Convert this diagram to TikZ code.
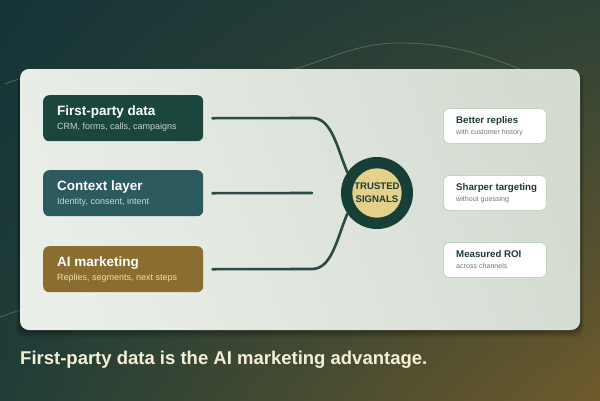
\documentclass[tikz,border=0pt]{standalone}
\usepackage{fontspec}
\setmainfont{Liberation Sans}
\usetikzlibrary{calc,shadings}
\definecolor{bgTL}{HTML}{163438}
\definecolor{bgTR}{HTML}{2D4236}
\definecolor{bgBL}{HTML}{1F3D37}
\definecolor{bgBR}{HTML}{6F5A2B}
\definecolor{panA}{HTML}{EAEEE8}
\definecolor{panB}{HTML}{D4DCD2}
\definecolor{boxA}{HTML}{1B463E}
\definecolor{boxB}{HTML}{2D5A5F}
\definecolor{boxC}{HTML}{8B6E2F}
\definecolor{subA}{HTML}{C3D5CE}
\definecolor{subB}{HTML}{C6DADB}
\definecolor{subC}{HTML}{EEDDAE}
\definecolor{ring}{HTML}{173E37}
\definecolor{gold}{HTML}{E4D089}
\definecolor{conn}{HTML}{2A4A45}
\definecolor{cardline}{HTML}{C3D4C7}
\definecolor{cardtitle}{HTML}{1E3B36}
\definecolor{cardsub}{HTML}{6E7B77}
\definecolor{foot}{HTML}{F4EFD7}
\definecolor{faint}{HTML}{6A8260}
\begin{document}
\begin{tikzpicture}[x=1pt,y=-1pt,
  leftbox/.style={rounded corners=6pt, minimum width=160pt, minimum height=46pt, inner sep=0pt, anchor=north west},
  card/.style={rounded corners=6pt, fill=white, draw=cardline, line width=0.9pt, minimum width=103pt, minimum height=35pt, inner sep=0pt, anchor=north west},
  ttl/.style={anchor=base west, inner sep=0pt, font=\fontsize{13.5}{15}\selectfont\bfseries, text=white},
  sub/.style={anchor=base west, inner sep=0pt, font=\fontsize{9}{10}\selectfont},
  cttl/.style={anchor=base west, inner sep=0pt, font=\fontsize{9.7}{11}\selectfont\bfseries, text=cardtitle},
  csub/.style={anchor=base west, inner sep=0pt, font=\fontsize{7.1}{8}\selectfont, text=cardsub},
  connline/.style={draw=conn, line width=2.6pt, line cap=round}
]
\useasboundingbox (0,0) rectangle (600,400);
% background
\shade[upper left=bgTL, upper right=bgTR, lower left=bgBL, lower right=bgBR] (0,0) rectangle (600,400);
% faint curves
\def\wavepath{(5,84) .. controls (80,52) and (220,95) .. (295,69) .. controls (340,55) and (360,43) .. (400,43) .. controls (450,43) and (490,55) .. (545,80)}
\def\lowpath{(-2,318) .. controls (20,309) and (60,298) .. (110,292)}
\draw[faint, line width=0.8pt, opacity=0.7] \wavepath;
\draw[faint, line width=0.8pt, opacity=0.6] \lowpath;
% panel shadow
\foreach \o/\a in {8/0.06,6/0.08,4/0.10,2/0.12}{
  \fill[black, opacity=\a, rounded corners=9pt] (20-\o/2,69+\o/2) rectangle (580+\o/2,330+\o);
}
% panel
\shade[rounded corners=9pt, left color=panA, right color=panB, shading angle=110] (20,69) rectangle (580,330);
\begin{scope}
  \clip[rounded corners=9pt] (20,69) rectangle (580,330);
  \draw[white, line width=0.8pt, opacity=0.18] \wavepath;
  \draw[white, line width=0.8pt, opacity=0.18] \lowpath;
\end{scope}
% left boxes
\node[leftbox, fill=boxA] (fp) at (43,95) {};
\node[leftbox, fill=boxB] (ctx) at (43,170) {};
\node[leftbox, fill=boxC] (ai) at (43,246) {};
\node[ttl] (fpT) at ($(fp.north west)+(14,20)$) {First-party data};
\node[sub, text=subA] (fpS) at ($(fp.north west)+(14,34.3)$) {CRM, forms, calls, campaigns};
\node[ttl] (ctxT) at ($(ctx.north west)+(14,20.2)$) {Context layer};
\node[sub, text=subB] (ctxS) at ($(ctx.north west)+(14,34.5)$) {Identity, consent, intent};
\node[ttl] (aiT) at ($(ai.north west)+(14,20)$) {AI marketing};
\node[sub, text=subC] (aiS) at ($(ai.north west)+(14,34.4)$) {Replies, segments, next steps};
% hub
\node[circle, fill=ring, minimum size=72pt, inner sep=0pt] (sig) at (377,193) {};
\node[circle, fill=gold, minimum size=46pt, inner sep=0pt, align=center, text=ring,
      font=\fontsize{9.6}{13}\selectfont\bfseries] (gold) at (sig.center) {TRUSTED\\SIGNALS};
% connectors
\coordinate (midEnd) at (312,193);
\draw[connline] ([xshift=9pt]fp.east) -- (312,118) .. controls (332,118) and (337,148) .. (sig.145);
\draw[connline] ([xshift=9pt]ctx.east) -- (midEnd);
\draw[connline] ([xshift=9pt]ai.east) -- (312,269) .. controls (332,269) and (337,238) .. (sig.215);
% cards
\node[card] (r1) at (443,108) {};
\node[card] (r2) at (443,175) {};
\node[card] (r3) at (443,242) {};
\node[cttl] (r1T) at ($(r1.north west)+(13,15)$) {Better replies};
\node[csub] (r1S) at ($(r1.north west)+(13,26.8)$) {with customer history};
\node[cttl] (r2T) at ($(r2.north west)+(13,15.2)$) {Sharper targeting};
\node[csub] (r2S) at ($(r2.north west)+(13,26.3)$) {without guessing};
\node[cttl] (r3T) at ($(r3.north west)+(13,15)$) {Measured ROI};
\node[csub] (r3S) at ($(r3.north west)+(13,26.5)$) {across channels};
% footer
\node[anchor=base west, inner sep=0pt, text=foot, font=\fontsize{18.5}{20}\selectfont\bfseries] (foot) at (20,364) {First-party data is the AI marketing advantage.};
\end{tikzpicture}
\end{document}
